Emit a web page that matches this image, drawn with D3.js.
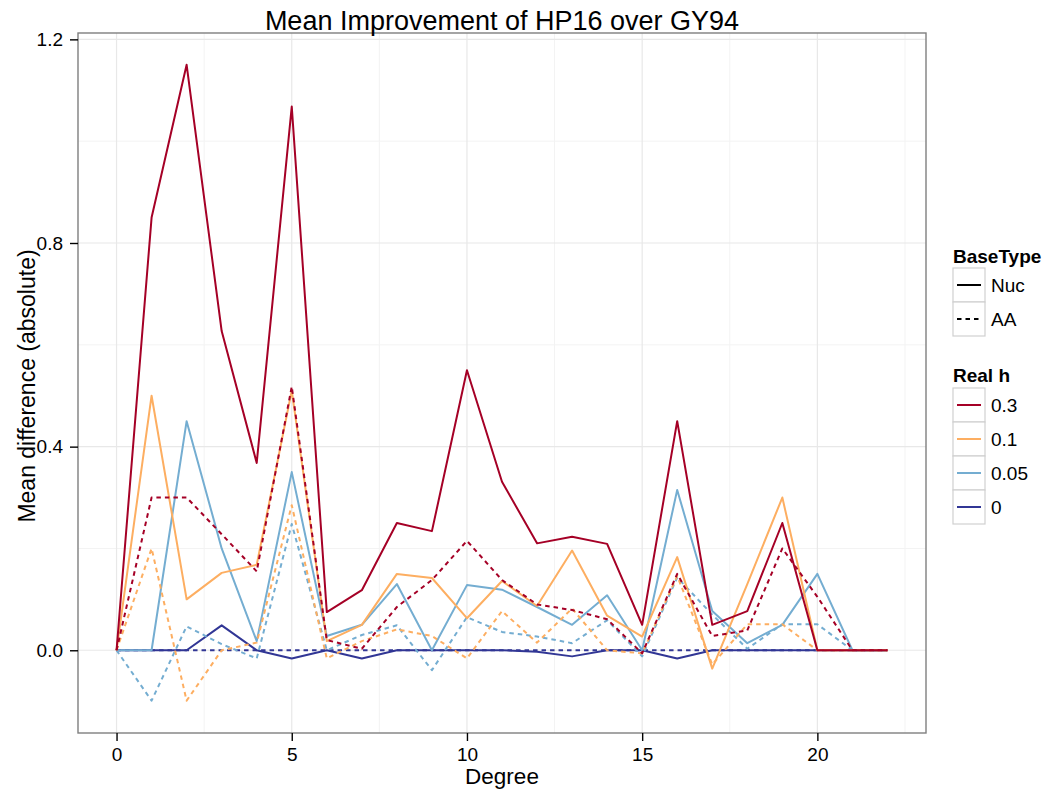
<!DOCTYPE html>
<html><head><meta charset="utf-8">
<script src="https://cdn.jsdelivr.net/npm/d3@7"></script>
<style>body{margin:0;background:#fff;} text{font-family:"Liberation Sans",Arial,Helvetica,sans-serif;}</style>
</head><body>
<svg id="chart" width="1047" height="789"></svg>
<script>
const degrees = d3.range(0, 23);
const hLevels = ["0.3", "0.1", "0.05", "0"];
const baseTypes = ["Nuc", "AA"];
const xTicks = [0, 5, 10, 15, 20];
const yTicks = [0, 0.4, 0.8, 1.2];
const hColors = ["#A50026", "#FDAE61", "#74ADD1", "#313695"];

const nuc03 = [0, 0.85, 1.15, 0.627, 0.368, 1.068, 0.075, 0.118, 0.25, 0.234, 0.55, 0.331, 0.21, 0.223, 0.209, 0.05, 0.45, 0.05, 0.077, 0.25, 0, 0, 0];
const aa03  = [0, 0.30, 0.30, 0.228, 0.155, 0.518, 0.02, 0.003, 0.085, 0.138, 0.215, 0.138, 0.09, 0.079, 0.061, -0.006, 0.15, 0.028, 0.039, 0.2, 0.105, 0, 0];
const nuc01 = [0, 0.50, 0.10, 0.152, 0.168, 0.51, 0.018, 0.05, 0.15, 0.142, 0.063, 0.136, 0.087, 0.196, 0.068, 0.027, 0.183, -0.036, 0.13, 0.30, 0, 0, 0];
const aa01  = [0, 0.20, -0.099, 0, 0.015, 0.285, -0.016, 0.018, 0.041, 0.028, -0.016, 0.077, 0.015, 0.082, 0, -0.006, 0.146, -0.028, 0.051, 0.051, 0, 0, 0];
const nuc005 = [0, 0, 0.45, 0.2, 0.018, 0.35, 0.028, 0.05, 0.13, 0, 0.128, 0.119, 0.085, 0.05, 0.108, 0, 0.315, 0.077, 0.014, 0.05, 0.15, 0, 0];
const aa005  = [0, -0.099, 0.047, 0.012, -0.016, 0.248, 0, 0.03, 0.049, -0.039, 0.065, 0.036, 0.027, 0.014, 0.059, -0.012, 0.143, 0.07, 0.003, 0.051, 0.051, 0, 0];
const nuc0 = [0, 0, 0, 0.049, 0, -0.016, 0, -0.016, 0, 0, 0, 0, -0.003, -0.012, 0, 0, -0.016, 0, 0, 0, 0, 0, 0];
const aa0  = [0, 0, 0, 0, 0, 0, 0, 0, 0, 0, 0, 0, 0, 0, 0, 0, 0, 0, 0, 0, 0, 0, 0];

// draw order: navy, light blue, orange, red
const series = [
  {h: "0", type: "Nuc", values: nuc0},
  {h: "0", type: "AA", values: aa0},
  {h: "0.05", type: "Nuc", values: nuc005},
  {h: "0.05", type: "AA", values: aa005},
  {h: "0.1", type: "Nuc", values: nuc01},
  {h: "0.1", type: "AA", values: aa01},
  {h: "0.3", type: "Nuc", values: nuc03},
  {h: "0.3", type: "AA", values: aa03}
];

const svg = d3.select("#chart");
const L = 78, R = 926, T = 33, B = 733;
const x = d3.scaleLinear().domain([-1.1, 23.1]).range([L, R]);
const y = d3.scaleLinear().domain([-0.1625, 1.2125]).range([B, T]);
const color = d3.scaleOrdinal().domain(hLevels).range(hColors);
const dash = d3.scaleOrdinal().domain(baseTypes).range(["none", "4.5,4"]);

// panel background & grid
svg.append("rect").attr("x", L).attr("y", T).attr("width", R - L).attr("height", B - T).attr("fill", "#fff");
const g = svg.append("g");
const xMinor = [2.5, 7.5, 12.5, 17.5, 22.5];
const yMinor = [0.2, 0.6, 1.0];
g.selectAll(".xminor").data(xMinor).join("line").attr("x1", d => x(d)).attr("x2", d => x(d)).attr("y1", T).attr("y2", B).attr("stroke", "#f3f3f3").attr("stroke-width", 1);
g.selectAll(".yminor").data(yMinor).join("line").attr("y1", d => y(d)).attr("y2", d => y(d)).attr("x1", L).attr("x2", R).attr("stroke", "#f3f3f3").attr("stroke-width", 1);
g.selectAll(".xmajor").data(xTicks).join("line").attr("x1", d => x(d)).attr("x2", d => x(d)).attr("y1", T).attr("y2", B).attr("stroke", "#e8e8e8").attr("stroke-width", 1.2);
g.selectAll(".ymajor").data(yTicks).join("line").attr("y1", d => y(d)).attr("y2", d => y(d)).attr("x1", L).attr("x2", R).attr("stroke", "#e8e8e8").attr("stroke-width", 1.2);

// lines
const line = d3.line().x((d, i) => x(degrees[i])).y(d => y(d));
svg.append("g").selectAll("path").data(series).join("path")
  .attr("d", d => line(d.values))
  .attr("fill", "none")
  .attr("stroke", d => color(d.h))
  .attr("stroke-width", 2)
  .attr("stroke-dasharray", d => dash(d.type))
  .attr("stroke-linejoin", "round");

// border
svg.append("rect").attr("x", L).attr("y", T).attr("width", R - L).attr("height", B - T).attr("fill", "none").attr("stroke", "#7f7f7f").attr("stroke-width", 1.4);

// axes
const xAxis = svg.append("g").attr("transform", `translate(0,${B})`)
  .call(d3.axisBottom(x).tickValues(xTicks).tickSize(8).tickPadding(6).tickFormat(d3.format("d")));
const yAxis = svg.append("g").attr("transform", `translate(${L},0)`)
  .call(d3.axisLeft(y).tickValues(yTicks).tickSize(8).tickPadding(7).tickFormat(d3.format(".1f")));
[xAxis, yAxis].forEach(a => {
  a.select(".domain").remove();
  a.selectAll(".tick line").attr("stroke", "#000").attr("stroke-width", 1.4);
  a.selectAll(".tick text").attr("fill", "#000").style("font-size", "19px").style("font-family", "'Liberation Sans',Arial,sans-serif");
});
xAxis.selectAll(".tick text").attr("dy", "0.72em");

// title and axis labels
svg.append("text").attr("x", (L + R) / 2).attr("y", 30).attr("text-anchor", "middle").style("font-size", "27px").text("Mean Improvement of HP16 over GY94");
svg.append("text").attr("x", (L + R) / 2).attr("y", 784).attr("text-anchor", "middle").style("font-size", "22.5px").text("Degree");
svg.append("text").attr("transform", `translate(35,${(T + B) / 2 + 3}) rotate(-90)`).attr("text-anchor", "middle").style("font-size", "23px").text("Mean difference (absolute)");

// legends
const lg = svg.append("g");
const kx = 953, kw = 32, kh = 34;
lg.append("text").attr("x", kx).attr("y", 263).style("font-size", "19px").style("font-weight", "bold").text("BaseType");
baseTypes.forEach((t, i) => {
  const ky = 268 + i * kh;
  lg.append("rect").attr("x", kx).attr("y", ky).attr("width", kw).attr("height", kh).attr("fill", "#fff").attr("stroke", "#d0d0d0").attr("stroke-width", 1.2);
  lg.append("line").attr("x1", kx + 4).attr("x2", kx + kw - 4).attr("y1", ky + kh / 2).attr("y2", ky + kh / 2).attr("stroke", "#000").attr("stroke-width", 2).attr("stroke-dasharray", dash(t));
  lg.append("text").attr("x", kx + kw + 6).attr("y", ky + kh / 2 + 7).style("font-size", "19px").text(t);
});
lg.append("text").attr("x", kx).attr("y", 382).style("font-size", "19px").style("font-weight", "bold").text("Real h");
hLevels.forEach((h, i) => {
  const ky = 388 + i * kh;
  lg.append("rect").attr("x", kx).attr("y", ky).attr("width", kw).attr("height", kh).attr("fill", "#fff").attr("stroke", "#d0d0d0").attr("stroke-width", 1.2);
  lg.append("line").attr("x1", kx + 4).attr("x2", kx + kw - 4).attr("y1", ky + kh / 2).attr("y2", ky + kh / 2).attr("stroke", color(h)).attr("stroke-width", 2);
  lg.append("text").attr("x", kx + kw + 6).attr("y", ky + kh / 2 + 7).style("font-size", "19px").text(h);
});
</script>
</body></html>
